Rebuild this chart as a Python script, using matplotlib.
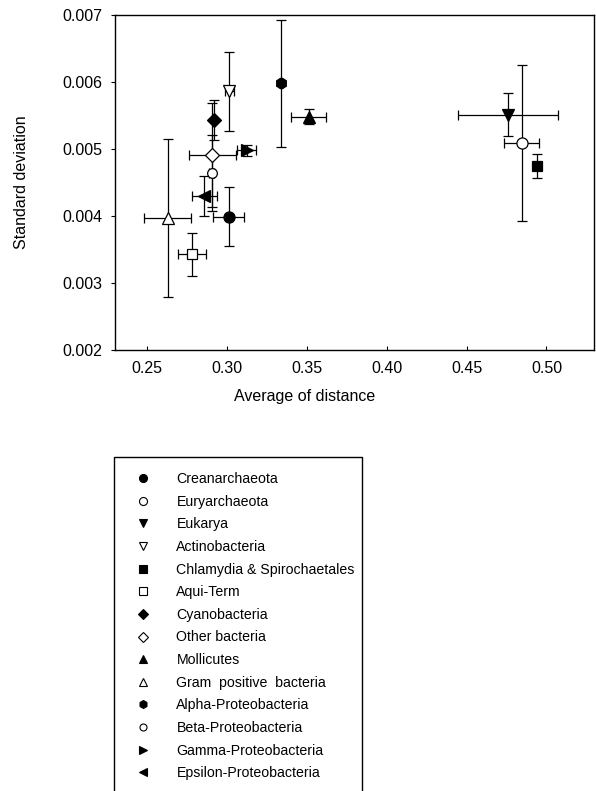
import matplotlib
matplotlib.use("Agg")
import matplotlib.pyplot as plt
from matplotlib.lines import Line2D
from matplotlib.patches import Rectangle

plt.rcParams['font.family'] = ['Liberation Sans', 'DejaVu Sans']

groups = ["Creanarchaeota", "Euryarchaeota", "Eukarya", "Actinobacteria",
          "Chlamydia & Spirochaetales", "Aqui-Term", "Cyanobacteria",
          "Other bacteria", "Mollicutes", "Gram  positive  bacteria",
          "Alpha-Proteobacteria", "Beta-Proteobacteria",
          "Gamma-Proteobacteria", "Epsilon-Proteobacteria"]
avg_dist = [0.3012, 0.4844, 0.4760, 0.3017, 0.4938, 0.2783, 0.2919,
            0.2910, 0.3514, 0.2631, 0.3340, 0.2906, 0.3125, 0.2860]
std_dev = [0.00399, 0.00509, 0.00551, 0.00586, 0.00474, 0.00343, 0.00543,
           0.00491, 0.00548, 0.00397, 0.00598, 0.00464, 0.00498, 0.00430]
x_err = [0.0096, 0.0109, 0.0315, 0.0029, 0.0012, 0.0086, 0.0012,
         0.0146, 0.0109, 0.0146, 0.0015, 0.0015, 0.0059, 0.0078]
y_err = [0.00044, 0.00117, 0.00032, 0.00059, 0.00018, 0.00032, 0.00030,
         0.00078, 0.00011, 0.00118, 0.00095, 0.00057, 0.00008, 0.00030]

markers = ['o', 'o', 'v', 'v', 's', 's', 'D', 'D', '^', '^', 'h', 'o', '>', '<']
filled = [True, False, True, False, True, False, True, False, True, False,
          True, False, True, True]
msizes = [8, 8, 8, 8, 7.5, 7.5, 7, 7, 8, 8, 8, 7, 8, 8]

W, H = 596, 791
fig = plt.figure(figsize=(W/100, H/100), dpi=100)
ax = fig.add_axes([115/W, 1-350/H, (594-115)/W, (350-15)/H])

for i in range(len(groups)):
    ax.errorbar(avg_dist[i], std_dev[i], xerr=x_err[i], yerr=y_err[i],
                fmt=markers[i], ms=msizes[i], mfc='black' if filled[i] else 'white',
                mec='black', mew=0.9, ecolor='black', elinewidth=0.9,
                capsize=3.5, capthick=0.9, zorder=3)

ax.set_xlim(0.2302, 0.5297)
ax.set_ylim(0.002, 0.007)
ax.set_xticks([0.25, 0.30, 0.35, 0.40, 0.45, 0.50])
ax.set_xticklabels(['0.25', '0.30', '0.35', '0.40', '0.45', '0.50'])
ax.set_yticks([0.002, 0.003, 0.004, 0.005, 0.006, 0.007])
ax.set_yticklabels(['0.002', '0.003', '0.004', '0.005', '0.006', '0.007'])
ax.tick_params(axis='x', direction='in', length=3, labelsize=11.5, pad=8)
ax.tick_params(axis='y', direction='out', length=3, labelsize=11.5, pad=6)
for s in ax.spines.values():
    s.set_linewidth(1.0)
ax.set_xlabel("Average of distance", fontsize=11.5)
ax.xaxis.set_label_coords((305-115)/479, -0.115)
ax.set_ylabel("Standard deviation", fontsize=11.5, labelpad=24)

# legend frame drawn separately so its padding matches the reference
fig.patches.append(Rectangle((114/W, 1-797/H), (362-114)/W, (797-457)/H,
                             transform=fig.transFigure, fill=False,
                             edgecolor='black', linewidth=1.0))

handles = [Line2D([], [], linestyle='none', marker=markers[i],
                  ms=msizes[i]*0.72, mfc='black' if filled[i] else 'white',
                  mec='black', mew=0.8) for i in range(len(groups))]
leg = fig.legend(handles, groups, loc='upper left',
                 bbox_to_anchor=(124/W, 1-472/H), frameon=False,
                 fontsize=10.2, borderaxespad=0, borderpad=0,
                 labelspacing=0.61, handletextpad=1.0, handlelength=2.7)

fig.savefig("out.png", dpi=100)
